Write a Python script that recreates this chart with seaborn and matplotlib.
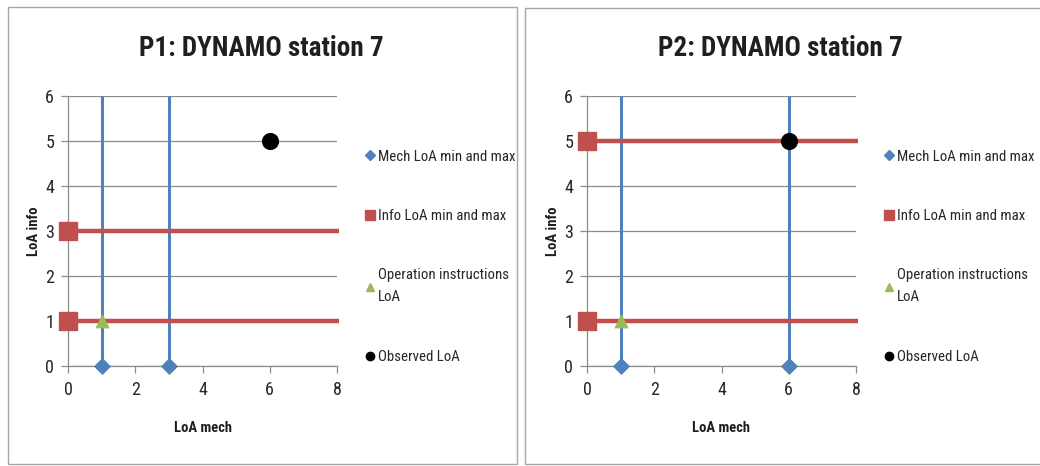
import matplotlib
matplotlib.use("Agg")
import matplotlib.pyplot as plt
import matplotlib.font_manager as fm
import seaborn as sns
import pandas as pd
from matplotlib.patches import Rectangle
from matplotlib.lines import Line2D

sns.set_theme(style="white")
names = {f.name for f in fm.fontManager.ttflist}
preferred = [n for n in ["Liberation Sans Narrow", "Roboto Condensed", "Open Sans Condensed", "Lato"]
             if n in names]
plt.rcParams['font.family'] = preferred[:1] + ['DejaVu Sans']

# Data for the two stations
titles = ["P1: DYNAMO station 7", "P2: DYNAMO station 7"]
mech_minmax = [[1, 3], [1, 6]]
info_minmax = [[3, 1], [5, 1]]
op_instr = [(1, 1), (1, 1)]
observed = [(6, 5), (6, 5)]

x_ticks = [0, 2, 4, 6, 8]
y_ticks = [0, 1, 2, 3, 4, 5, 6]
legend_labels = ["Mech LoA min and max", "Info LoA min and max",
                 "Operation instructions\nLoA", "Observed LoA"]

BLUE = "#4F81BD"
RED = "#C0504D"
GREEN = "#9BBB59"
GRID = "#8c8c8c"
TEXT = "#1f1f1f"

W, H = 1040, 466
fig = plt.figure(figsize=(W / 100, H / 100), dpi=100)

panel_left = [68, 587]
panel_frames = [(8, 7, 509, 457), (525, 8, 520, 456)]

for i in range(2):
    fx, fy, fw, fh = panel_frames[i]
    fig.patches.append(Rectangle((fx / W, 1 - (fy + fh) / H), fw / W, fh / H,
                                 transform=fig.transFigure, fill=False,
                                 edgecolor="#a6a6a6", linewidth=1.0))
    ax = fig.add_axes([panel_left[i] / W, 100 / H, 269 / W, 270 / H])
    ax.set_xlim(0, 8)
    ax.set_ylim(0, 6)

    # vertical mech lines and horizontal info lines
    ax.vlines(mech_minmax[i], 0, 6, color=BLUE, linewidth=2.2, zorder=3)
    ax.hlines(info_minmax[i], 0, 8.05, color=RED, linewidth=3.2, zorder=3, clip_on=False)

    mech_df = pd.DataFrame({"x": mech_minmax[i], "y": [0] * len(mech_minmax[i])})
    info_df = pd.DataFrame({"x": [0] * len(info_minmax[i]), "y": info_minmax[i]})
    op_df = pd.DataFrame({"x": [op_instr[i][0]], "y": [op_instr[i][1]]})
    obs_df = pd.DataFrame({"x": [observed[i][0]], "y": [observed[i][1]]})

    sns.scatterplot(data=mech_df, x="x", y="y", ax=ax, marker="D", s=65, color=BLUE,
                    edgecolor=BLUE, zorder=5, clip_on=False)
    sns.scatterplot(data=info_df, x="x", y="y", ax=ax, marker="s", s=150, color=RED,
                    edgecolor=RED, zorder=5, clip_on=False)
    sns.scatterplot(data=op_df, x="x", y="y", ax=ax, marker="^", s=85, color=GREEN,
                    edgecolor=GREEN, zorder=4, clip_on=False)
    sns.scatterplot(data=obs_df, x="x", y="y", ax=ax, marker="o", s=130, color="black",
                    edgecolor="black", zorder=6, clip_on=False)

    ax.set_xticks(x_ticks)
    ax.set_yticks(y_ticks)
    ax.yaxis.grid(True, color=GRID, linewidth=0.9)
    ax.xaxis.grid(False)
    ax.set_axisbelow(True)
    for s in ["top", "right"]:
        ax.spines[s].set_visible(False)
    for s in ["left", "bottom"]:
        ax.spines[s].set_color(GRID)
        ax.spines[s].set_linewidth(0.9)
    ax.tick_params(axis="both", which="major", direction="out", length=5,
                   color=GRID, width=0.9, labelsize=13, labelcolor="#262626")
    ax.tick_params(axis="x", pad=6, bottom=True)
    ax.tick_params(axis="y", pad=5, left=True)

    ax.set_xlabel("LoA mech", fontsize=10.5, fontweight="bold", labelpad=16, color=TEXT)
    ax.set_ylabel("LoA info", fontsize=10.5, fontweight="bold", labelpad=3, color=TEXT)
    ax.set_title(titles[i], fontsize=19.5, fontweight="bold", pad=29, color=TEXT, x=0.72)

    handles = [
        Line2D([], [], linestyle="none", marker="D", markersize=5, color=BLUE),
        Line2D([], [], linestyle="none", marker="s", markersize=7.5, color=RED),
        Line2D([], [], linestyle="none", marker="^", markersize=6, color=GREEN),
        Line2D([], [], linestyle="none", marker="o", markersize=6, color="black"),
    ]
    leg = ax.legend(handles, legend_labels, loc="center left", bbox_to_anchor=(1.085, 0.405),
                    frameon=False, fontsize=10.7, handlelength=0.5, handletextpad=0.3,
                    labelspacing=3.05, borderaxespad=0)
    for t in leg.get_texts():
        t.set_color("#262626")
    leg.get_texts()[2].set_linespacing(1.75)

fig.savefig("out.png", dpi=100, facecolor="white")
